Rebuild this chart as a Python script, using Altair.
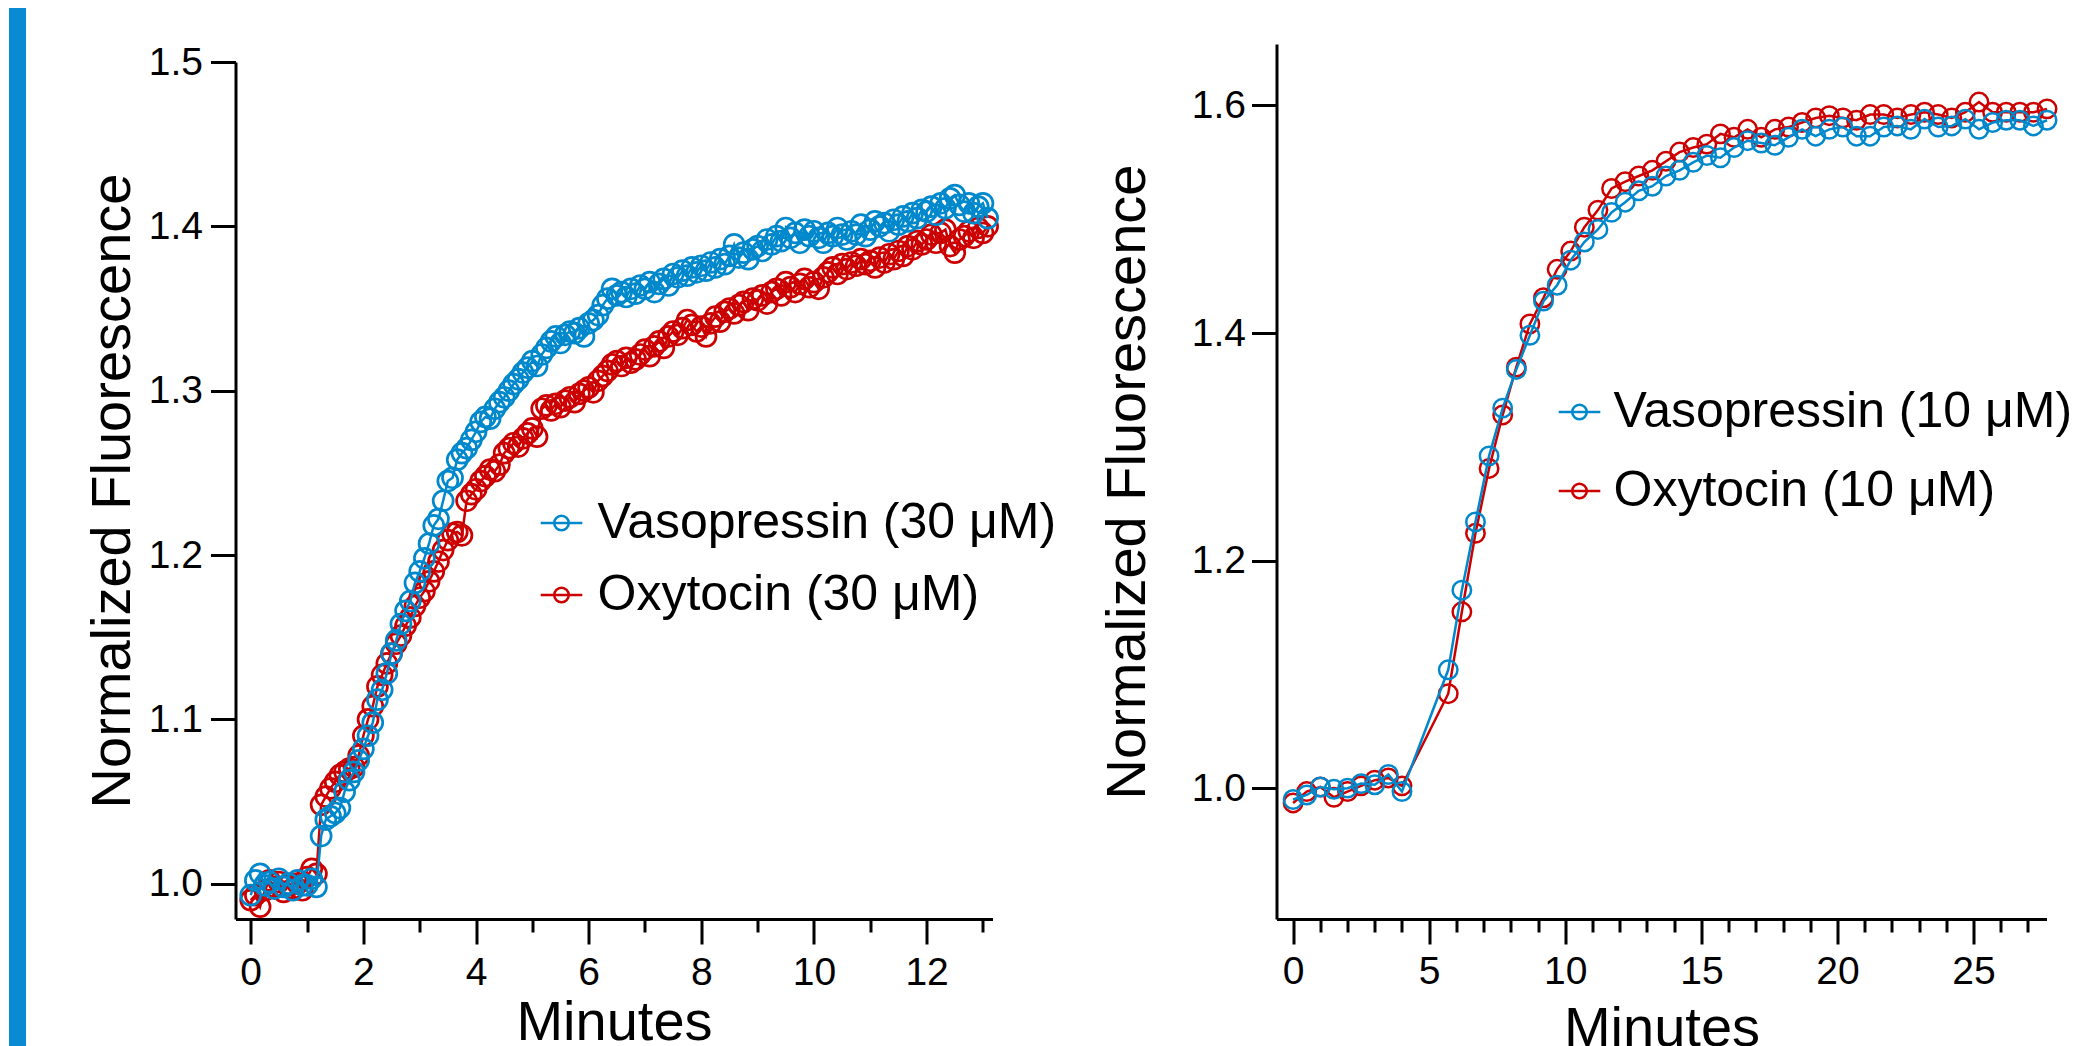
import altair as alt
import pandas as pd

FONT = "Liberation Sans"
BLUE = "#0088cc"
RED = "#cc0000"
FRAME_BLUE = "#0a8ad2"

LEFT_NAMES = ["Vasopressin (30 μM)", "Oxytocin (30 μM)"]
RIGHT_NAMES = ["Vasopressin (10 μM)", "Oxytocin (10 μM)"]

# left panel: one reading every 5 s
LEFT_SAMPLE_MIN = 5 / 60
LEFT_VASO = [
    0.993, 1.002, 1.006, 0.999, 1.001, 0.997, 1.003, 0.998, 1.000, 0.996, 1.002, 0.999,
    0.999, 1.003, 0.998, 1.029, 1.039, 1.041, 1.043, 1.046, 1.056, 1.063, 1.068, 1.075,
    1.082, 1.090, 1.098, 1.112, 1.118, 1.128, 1.140, 1.148, 1.158, 1.166, 1.172, 1.183,
    1.190, 1.198, 1.207, 1.218, 1.222, 1.233, 1.245, 1.247, 1.258, 1.262, 1.265, 1.270,
    1.275, 1.281, 1.284, 1.283, 1.289, 1.293, 1.296, 1.300, 1.304, 1.307, 1.311, 1.314,
    1.318, 1.315, 1.322, 1.326, 1.330, 1.333, 1.329, 1.334, 1.336, 1.335, 1.338, 1.333,
    1.341, 1.343, 1.346, 1.352, 1.356, 1.362, 1.358, 1.360, 1.357, 1.362, 1.359, 1.364,
    1.362, 1.366, 1.360, 1.365, 1.368, 1.364, 1.371, 1.369, 1.373, 1.370, 1.375, 1.372,
    1.376, 1.373, 1.378, 1.375, 1.380, 1.377, 1.382, 1.389, 1.381, 1.384, 1.380, 1.386,
    1.388, 1.385, 1.392, 1.389, 1.394, 1.391, 1.399, 1.393, 1.396, 1.390, 1.398, 1.394,
    1.397, 1.393, 1.390, 1.396, 1.394, 1.399, 1.395, 1.392, 1.397, 1.395, 1.401, 1.394,
    1.398, 1.403, 1.400, 1.402, 1.397, 1.404, 1.401, 1.406, 1.403, 1.408, 1.405, 1.410,
    1.409, 1.412, 1.407, 1.414, 1.411, 1.417, 1.419, 1.413, 1.409, 1.414, 1.408, 1.412,
    1.414, 1.405,
]
LEFT_OXY = [
    0.990, 0.993, 0.986, 0.996, 1.002, 0.998, 1.001, 0.995, 0.999, 0.997, 1.000, 0.996,
    1.004, 1.009, 1.006, 1.048, 1.053, 1.058, 1.062, 1.066, 1.068, 1.070, 1.071, 1.078,
    1.090, 1.100, 1.108, 1.120, 1.127, 1.134, 1.140, 1.146, 1.151, 1.157, 1.162, 1.169,
    1.174, 1.178, 1.184, 1.190, 1.196, 1.203, 1.209, 1.213, 1.214, 1.212, 1.233, 1.237,
    1.240, 1.245, 1.248, 1.252, 1.251, 1.255, 1.262, 1.265, 1.268, 1.266, 1.271, 1.274,
    1.277, 1.272, 1.289, 1.291, 1.288, 1.292, 1.290, 1.294, 1.296, 1.293, 1.298, 1.300,
    1.302, 1.299, 1.306, 1.309, 1.312, 1.316, 1.318, 1.315, 1.320, 1.317, 1.319, 1.322,
    1.325, 1.321, 1.327, 1.330, 1.326, 1.333, 1.336, 1.334, 1.338, 1.343, 1.340, 1.336,
    1.339, 1.333, 1.341, 1.345, 1.342, 1.348, 1.350, 1.347, 1.352, 1.354, 1.349, 1.356,
    1.355, 1.358, 1.353, 1.360, 1.362, 1.358, 1.366, 1.363, 1.360, 1.365, 1.368, 1.363,
    1.366, 1.362, 1.369, 1.372, 1.375, 1.371, 1.377, 1.374, 1.378, 1.376, 1.380, 1.377,
    1.379, 1.375, 1.381, 1.378, 1.383, 1.380, 1.385, 1.382, 1.388, 1.386, 1.391, 1.389,
    1.392, 1.395, 1.390, 1.396, 1.398, 1.388, 1.384, 1.392, 1.394, 1.397, 1.393, 1.399,
    1.396, 1.400,
]
LEFT_TIMES = [round(i * LEFT_SAMPLE_MIN, 4) for i in range(len(LEFT_VASO))]

RIGHT_TIMES = [
    0.0, 0.5, 1.0, 1.5, 2.0, 2.5, 3.0, 3.5, 4.0,
    5.7, 6.2, 6.7, 7.2, 7.7, 8.2, 8.7, 9.2, 9.7, 10.2,
    10.7, 11.2, 11.7, 12.2, 12.7, 13.2, 13.7, 14.2, 14.7, 15.2,
    15.7, 16.2, 16.7, 17.2, 17.7, 18.2, 18.7, 19.2, 19.7, 20.2,
    20.7, 21.2, 21.7, 22.2, 22.7, 23.2, 23.7, 24.2, 24.7, 25.2,
    25.7, 26.2, 26.7, 27.2, 27.7,
]
RIGHT_VASO = [
    0.990, 0.994, 1.001, 0.999, 1.000, 1.004, 1.003, 1.012, 0.997,
    1.104, 1.174, 1.234, 1.292, 1.334, 1.368, 1.398, 1.428, 1.442, 1.464,
    1.480, 1.491, 1.506, 1.515, 1.525, 1.529, 1.538, 1.543, 1.550, 1.556,
    1.554, 1.563, 1.569, 1.567, 1.565, 1.572, 1.579, 1.573, 1.579, 1.581,
    1.573, 1.573, 1.581, 1.582, 1.579, 1.588, 1.581, 1.582, 1.588, 1.579,
    1.585, 1.587, 1.587, 1.582, 1.587,
]
RIGHT_OXY = [
    0.987, 0.997, 1.001, 0.992, 0.997, 1.002, 1.007, 1.009, 1.002,
    1.083, 1.155, 1.224, 1.281, 1.328, 1.370, 1.408, 1.431, 1.456, 1.472,
    1.493, 1.508, 1.527, 1.533, 1.538, 1.543, 1.551, 1.559, 1.563, 1.566,
    1.575, 1.572, 1.579, 1.572, 1.579, 1.581, 1.585, 1.589, 1.591, 1.589,
    1.587, 1.592, 1.592, 1.589, 1.592, 1.594, 1.592, 1.589, 1.594, 1.603,
    1.594, 1.594, 1.594, 1.594, 1.597,
]

LEFT_X_TICKS = [i / 2 for i in range(27)]      # 0 ... 13, labels every 2
RIGHT_X_TICKS = list(range(28))                 # 0 ... 27, labels every 5
LEFT_Y_TICKS = [1.0, 1.1, 1.2, 1.3, 1.4, 1.5]
RIGHT_Y_TICKS = [1.0, 1.2, 1.4, 1.6]

LEGEND_SYMBOL = "M-1,0H1M0.35,0A0.35,0.35,0,1,1,-0.35,0A0.35,0.35,0,1,1,0.35,0Z"


def frame(times, vaso, oxy, names):
    rows = []
    for t, v in zip(times, oxy):
        rows.append({"series": names[1], "t": t, "v": v})
    for t, v in zip(times, vaso):
        rows.append({"series": names[0], "t": t, "v": v})
    return pd.DataFrame(rows)


def panel(df, names, xdom, ydom, xticks, major, yticks, w, h, legx, legy,
          rowpad, laboff, ytitle_x, xtitle_y, ylabpad, xlabpad, size, sw):
    color = alt.Color(
        "series:N",
        scale=alt.Scale(domain=names, range=[BLUE, RED]),
        legend=alt.Legend(
            title=None, orient="none", direction="vertical",
            legendX=legx, legendY=legy, padding=0,
            symbolType=LEGEND_SYMBOL, symbolSize=1730, symbolStrokeWidth=2.5,
            symbolFillColor="transparent", symbolOpacity=1,
            labelFont=FONT, labelFontSize=50, labelColor="black", labelLimit=1000,
            rowPadding=rowpad, labelOffset=laboff,
        ),
    )
    x = alt.X(
        "t:Q",
        scale=alt.Scale(domain=xdom, nice=False, zero=False),
        axis=alt.Axis(
            values=xticks, title="Minutes", grid=False,
            labelExpr=f"datum.value % {major} === 0 ? datum.label : ''",
            labelOverlap=False, labelFlush=False, format="d",
            tickSize={"condition": {"test": f"datum.value % {major} === 0", "value": 25}, "value": 13},
            tickWidth=3, tickColor="black", domainWidth=3, domainColor="black",
            labelFont=FONT, labelFontSize=39, labelColor="black", labelPadding=xlabpad,
            titleFont=FONT, titleFontSize=56, titleFontWeight="normal", titleColor="black",
            titleBaseline="alphabetic", titleY=xtitle_y,
        ),
    )
    y = alt.Y(
        "v:Q",
        scale=alt.Scale(domain=ydom, nice=False, zero=False),
        axis=alt.Axis(
            values=yticks, format=".1f", title="Normalized Fluorescence", grid=False,
            tickSize=25, tickWidth=3, tickColor="black", domainWidth=3, domainColor="black",
            labelFont=FONT, labelFontSize=39, labelColor="black", labelPadding=ylabpad,
            titleFont=FONT, titleFontSize=56, titleFontWeight="normal", titleColor="black",
            titleBaseline="alphabetic", titleX=ytitle_x,
        ),
    )
    base = alt.Chart(df).encode(x=x, y=y, color=color)
    layers = []
    for name in [names[1], names[0]]:
        sub = base.transform_filter(alt.datum.series == name)
        layers.append(sub.mark_line(strokeWidth=2.5))
        layers.append(sub.mark_point(filled=False, size=size, strokeWidth=sw, opacity=1))
    return alt.layer(*layers).properties(width=w, height=h)


def spacer(height):
    return alt.Chart(pd.DataFrame({"gap": [0]})).mark_point(opacity=0, size=1).properties(
        width=10, height=height
    )


# legend positions are relative to the top of each column (spacer + panel)
left = panel(
    frame(LEFT_TIMES, LEFT_VASO, LEFT_OXY, LEFT_NAMES), LEFT_NAMES,
    [-0.27, 13.17], [0.9785, 1.5], LEFT_X_TICKS, 2, LEFT_Y_TICKS,
    757, 857, 301, 490, 22, 11, -106.5, 120, 8, 9, 400, 2.7,
)
right = panel(
    frame(RIGHT_TIMES, RIGHT_VASO, RIGHT_OXY, RIGHT_NAMES), RIGHT_NAMES,
    [-0.61, 27.68], [0.885, 1.654], RIGHT_X_TICKS, 5, RIGHT_Y_TICKS,
    770, 875, 278, 379, 29, 9, -132, 126, 6, 8, 340, 2.5,
)

left_col = alt.vconcat(spacer(35), left, spacing=0)
right_col = alt.vconcat(spacer(35.5), right, spacing=0)

bar = alt.Chart(pd.DataFrame({"frame": [0]})).mark_point(opacity=0, size=1).properties(
    width=17, height=1038, view=alt.ViewBackground(fill=FRAME_BLUE, strokeWidth=0)
)

panels = alt.hconcat(left_col, right_col, spacing=43).resolve_scale(
    color="independent", x="independent", y="independent"
).resolve_legend(color="independent")

chart = (
    alt.hconcat(bar, panels, spacing=57.5)
    .properties(padding={"left": 1, "top": 0, "right": 0, "bottom": 0})
    .configure(font=FONT)
    .configure_view(strokeWidth=0)
)

chart.save("out.html", embed_options={"renderer": "svg", "actions": False})
